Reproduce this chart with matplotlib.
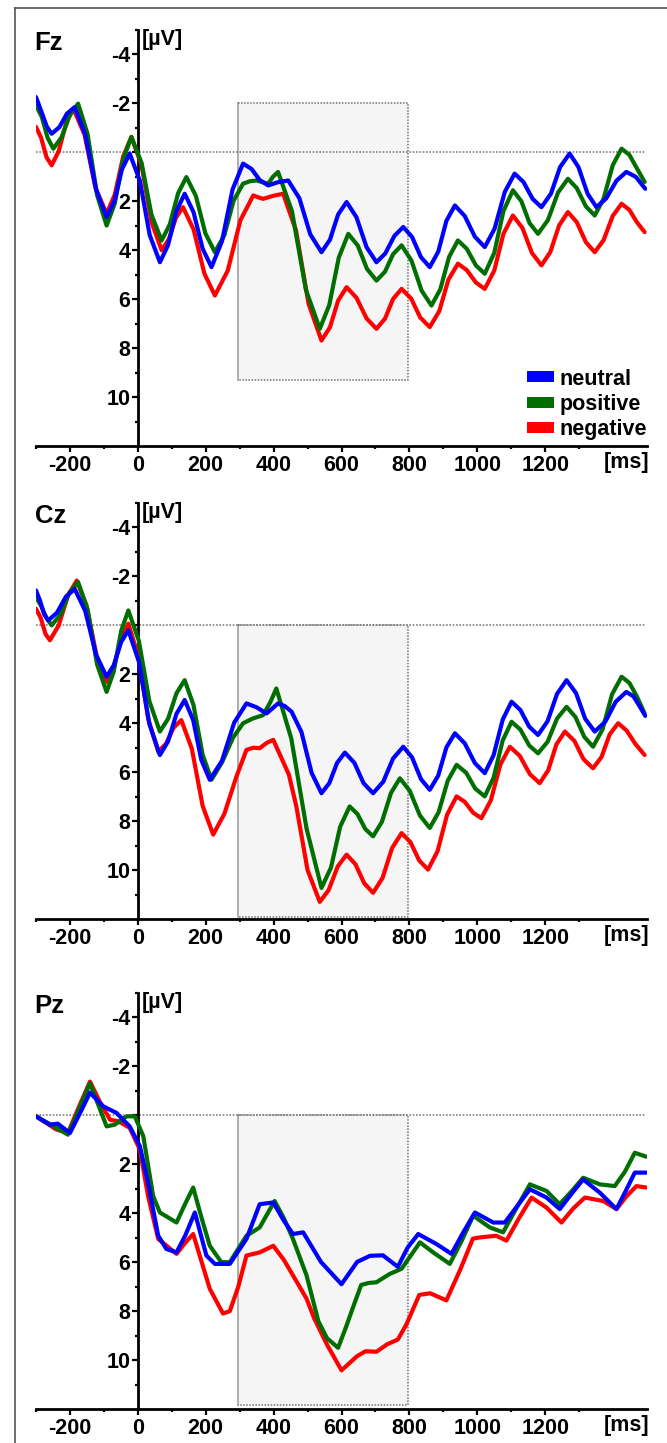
import matplotlib
matplotlib.use("Agg")
import matplotlib.pyplot as plt
from matplotlib.patches import Rectangle, Patch
from matplotlib.lines import Line2D

plt.rcParams['font.family'] = ['Liberation Sans', 'DejaVu Sans']
plt.rcParams['font.weight'] = 'bold'

# ---------------- data (time in ms, amplitude in microvolts) ----------------
conditions = ['neutral', 'positive', 'negative']
colors = ['#0000ff', '#006e00', '#ff0000']

x_ticks = [-200, 0, 200, 400, 600, 800, 1000, 1200]
x_ticklabels = ['-200', '0', '200', '400', '600', '800', '1000', '1200']
x_minor = [-300, -100, 100, 300, 500, 700, 900, 1100, 1300]
y_ticks = [-4, -2, 0, 2, 4, 6, 8, 10]
y_ticklabels = ['-4', '-2', '', '2', '4', '6', '8', '10']
y_minor = [-5, -3, -1, 1, 3, 5, 7, 9, 11]

fz_neutral_t = [-300,-285,-268,-254,-231,-209,-186,-155,-123,-92,-69,-47,-24,6,35,65,89,114,138,164,191,217,248,279,310,335,359,384,413,443,476,508,541,566,590,615,644,674,703,729,756,782,808,834,860,885,909,934,963,993,1022,1051,1081,1110,1136,1163,1189,1217,1244,1272,1298,1325,1351,1380,1410,1439,1467,1495]
fz_neutral_v = [-2.26,-1.7,-1.05,-0.76,-1.03,-1.58,-1.85,-0.73,1.52,2.64,1.99,0.70,0.05,1.16,3.38,4.49,3.79,2.39,1.69,2.44,3.94,4.69,3.63,1.52,0.46,0.68,1.13,1.35,1.22,1.15,1.88,3.35,4.08,3.57,2.54,2.03,2.65,3.88,4.49,4.13,3.41,3.05,3.46,4.28,4.69,4.06,2.80,2.17,2.60,3.45,3.87,3.12,1.62,0.87,1.21,1.90,2.24,1.69,0.60,0.05,0.60,1.69,2.24,1.88,1.16,0.80,1.0,1.49]

fz_positive_t = [-300,-283,-266,-249,-225,-200,-176,-148,-120,-92,-68,-43,-19,11,40,70,94,119,143,171,199,227,255,282,310,330,350,367,384,398,413,454,495,536,564,592,620,648,675,703,728,752,777,806,836,865,891,917,943,969,996,1022,1050,1077,1105,1130,1154,1179,1208,1238,1267,1293,1320,1346,1372,1399,1425,1448,1470,1493]
fz_positive_v = [-1.92,-1.45,-0.6,-0.15,-0.61,-1.53,-1.99,-0.75,1.75,2.99,2.09,0.28,-0.63,0.43,2.54,3.6,2.95,1.66,1.01,1.78,3.31,4.08,3.38,1.98,1.28,1.18,1.15,1.22,1.28,1.0,0.80,2.40,5.61,7.21,6.24,4.3,3.33,3.81,4.76,5.24,4.88,4.16,3.80,4.42,5.65,6.26,5.60,4.27,3.60,3.94,4.62,4.96,4.11,2.40,1.55,2.0,2.89,3.33,2.77,1.64,1.08,1.46,2.21,2.58,1.90,0.53,-0.15,0.1,0.65,1.21]

fz_negative_t = [-300,-285,-269,-254,-233,-211,-190,-157,-125,-92,-68,-43,-19,11,40,70,91,112,133,164,196,227,265,302,340,355,369,398,428,466,503,541,566,590,615,644,674,703,728,752,777,805,832,860,888,915,943,969,996,1022,1050,1077,1105,1133,1161,1189,1215,1241,1267,1293,1320,1346,1372,1399,1425,1448,1470,1493]
fz_negative_v = [-1.04,-0.6,0.2,0.53,-0.05,-1.21,-1.79,-0.72,1.44,2.51,1.73,0.16,-0.63,0.53,2.84,4.0,3.56,2.68,2.24,3.14,4.95,5.85,4.83,2.78,1.76,1.84,1.90,1.78,1.69,3.19,6.19,7.69,7.15,6.06,5.51,5.94,6.79,7.21,6.80,5.99,5.58,5.97,6.75,7.14,6.49,5.20,4.55,4.81,5.32,5.58,4.83,3.33,2.58,3.09,4.11,4.62,4.08,2.99,2.44,2.85,3.67,4.08,3.59,2.60,2.10,2.35,2.85,3.26]

cz_neutral_t = [-300,-288,-276,-264,-238,-212,-186,-155,-123,-92,-71,-49,-28,3,34,65,89,114,138,163,187,212,248,284,320,350,379,396,413,433,453,482,512,541,564,587,610,638,665,693,723,752,782,808,834,860,885,909,934,963,993,1022,1048,1075,1101,1127,1153,1179,1207,1235,1263,1291,1318,1346,1377,1408,1439,1460,1478,1495]
cz_neutral_v = [-1.43,-1.0,-0.45,-0.2,-0.52,-1.17,-1.49,-0.59,1.20,2.1,1.63,0.68,0.2,1.48,4.03,5.3,4.74,3.61,3.05,3.87,5.50,6.31,5.53,3.97,3.19,3.35,3.6,3.4,3.19,3.3,3.53,4.36,6.03,6.86,6.45,5.62,5.2,5.62,6.45,6.86,6.39,5.44,4.96,5.40,6.28,6.72,6.14,4.99,4.41,4.82,5.63,6.04,5.31,3.85,3.12,3.46,4.14,4.48,3.92,2.80,2.24,2.77,3.82,4.34,3.94,3.12,2.72,2.9,3.3,3.7]

cz_positive_t = [-300,-285,-269,-254,-228,-202,-176,-148,-120,-92,-71,-49,-28,3,34,65,89,114,138,164,191,217,248,280,310,340,369,390,408,452,497,541,569,596,624,647,670,693,719,746,772,801,831,860,886,913,939,967,994,1022,1048,1075,1101,1127,1153,1179,1207,1235,1263,1289,1315,1341,1369,1397,1425,1448,1470,1493]
cz_positive_v = [-1.15,-0.8,-0.3,0.0,-0.44,-1.33,-1.77,-0.65,1.6,2.72,1.89,0.22,-0.61,0.63,3.10,4.34,3.82,2.77,2.24,3.26,5.29,6.31,5.6,4.6,4.0,3.8,3.67,3.15,2.58,4.62,8.3,10.73,9.90,8.23,7.4,7.71,8.32,8.62,8.03,6.84,6.25,6.76,7.77,8.28,7.64,6.35,5.7,6.02,6.67,6.99,6.23,4.70,3.94,4.26,4.91,5.23,4.76,3.81,3.33,3.74,4.55,4.96,4.25,2.82,2.1,2.35,2.9,3.6]

cz_negative_t = [-300,-286,-272,-259,-233,-206,-180,-151,-121,-92,-71,-49,-28,1,31,60,83,105,128,159,191,222,255,290,320,340,359,380,399,445,467,500,536,562,589,615,641,667,693,721,749,777,803,829,855,883,911,939,963,988,1012,1040,1068,1096,1125,1155,1184,1209,1233,1258,1286,1313,1341,1366,1390,1415,1440,1466,1493]
cz_negative_v = [-0.68,-0.3,0.35,0.61,0.0,-1.22,-1.83,-0.80,1.28,2.31,1.72,0.53,-0.07,1.24,3.85,5.16,4.84,4.19,3.87,5.04,7.38,8.55,7.7,6.2,5.09,5.0,5.02,4.8,4.68,6.1,7.4,10.0,11.3,10.82,9.85,9.37,9.76,10.54,10.93,10.32,9.10,8.49,8.86,9.61,9.98,9.23,7.74,6.99,7.21,7.66,7.88,7.15,5.69,4.96,5.33,6.08,6.45,5.92,4.87,4.34,4.72,5.47,5.84,5.38,4.46,4.0,4.3,4.85,5.3]

pz_neutral_t = [-300,-259,-236,-200,-170,-141,-102,-63,-24,6,30,60,84,114,140,168,202,227,271,320,359,399,430,457,487,540,600,646,684,722,766,795,826,880,924,958,993,1047,1081,1118,1155,1204,1243,1278,1312,1361,1410,1437,1464,1498]
pz_neutral_v = [0.04,0.38,0.34,0.72,-0.1,-0.93,-0.37,-0.1,0.45,1.26,2.75,4.92,5.46,5.6,4.9,3.97,5.73,6.07,6.07,5.05,3.63,3.56,4.3,4.85,4.78,6.0,6.9,5.99,5.74,5.72,6.19,5.4,4.85,5.26,5.66,4.8,3.97,4.38,4.38,3.7,3.02,3.36,3.83,3.2,2.62,3.16,3.83,3.1,2.34,2.34]

pz_positive_t = [-300,-240,-206,-175,-141,-92,-68,-33,-9,16,45,65,114,140,163,190,212,246,271,320,359,403,430,457,497,532,557,590,612,633,658,680,703,742,777,831,870,919,955,988,1037,1076,1115,1155,1204,1243,1278,1312,1361,1405,1435,1464,1498]
pz_positive_v = [0.04,0.51,0.79,-0.2,-1.31,0.45,0.38,0.04,0.04,0.85,3.29,3.97,4.38,3.6,2.95,4.3,5.33,6.0,6.0,4.92,4.58,3.5,4.2,5.05,6.54,8.42,9.1,9.5,8.7,7.88,6.93,6.85,6.82,6.48,6.27,5.19,5.6,6.07,5.1,4.1,4.58,4.78,3.8,2.82,3.09,3.63,3.1,2.55,2.82,2.89,2.3,1.53,1.69]

pz_negative_t = [-300,-240,-206,-175,-141,-110,-82,-58,-24,6,30,60,114,140,163,212,251,271,296,320,359,399,430,468,497,519,557,600,646,671,703,734,766,791,829,861,909,950,987,1007,1056,1086,1123,1160,1204,1248,1283,1317,1371,1410,1440,1469,1498]
pz_negative_v = [0.04,0.58,0.72,-0.3,-1.38,-0.5,0.18,0.24,0.51,1.4,3.29,5.05,5.66,5.2,4.85,7.09,8.1,8.0,7.0,5.73,5.6,5.33,5.9,6.8,7.49,8.28,9.36,10.42,9.84,9.64,9.66,9.36,9.16,8.55,7.34,7.27,7.56,6.3,5.04,4.99,4.92,5.12,4.2,3.36,3.77,4.38,3.8,3.36,3.5,3.83,3.3,2.89,2.95]

# analysis window (ms) and its vertical extent per panel (microvolts)
window_start, window_end = 295, 797
fz_window = (-2.0, 9.3)
cz_window = (0.0, 11.9)
pz_window = (0.0, 11.85)

panels = [
    ('Fz', [(fz_neutral_t, fz_neutral_v), (fz_positive_t, fz_positive_v), (fz_negative_t, fz_negative_v)], fz_window, True),
    ('Cz', [(cz_neutral_t, cz_neutral_v), (cz_positive_t, cz_positive_v), (cz_negative_t, cz_negative_v)], cz_window, False),
    ('Pz', [(pz_neutral_t, pz_neutral_v), (pz_positive_t, pz_positive_v), (pz_negative_t, pz_negative_v)], pz_window, False),
]

# ---------------- layout ----------------
W, H = 667, 1443
fig = plt.figure(figsize=(W / 100, H / 100), dpi=100)
ax_left, ax_width = 36 / W, 611 / W
ax_height = 416 / H
ax_tops = [30, 503, 993]

# outer frame (left and top edges)
fig.add_artist(Line2D([15 / W, 15 / W], [0, 1 - 8 / H], color='#555555', lw=1.2))
fig.add_artist(Line2D([15 / W, 1], [1 - 8 / H, 1 - 8 / H], color='#555555', lw=1.2))

for (name, series, (wtop, wbot), show_legend), top in zip(panels, ax_tops):
    ax = fig.add_axes([ax_left, 1 - (top + 416) / H, ax_width, ax_height])
    ax.set_xlim(-300, 1500)
    ax.set_ylim(12, -5)
    ax.patch.set_visible(False)

    # analysis window
    ax.add_patch(Rectangle((window_start, wtop), window_end - window_start, wbot - wtop,
                           facecolor='#f5f5f5', edgecolor='none', zorder=0))
    ax.plot([window_start, window_start], [wtop, wbot], color='#a8a8a8', lw=1.3, zorder=1)
    ax.plot([window_start, window_end, window_end, window_start],
            [wtop, wtop, wbot, wbot], color='#707070', lw=1.1, ls=(0, (1, 1)), zorder=1)
    # zero line
    ax.plot([-300, 1495], [0, 0], color='#808080', lw=1.2, ls=(0, (1, 1)), zorder=1)

    # ERP curves (negative, positive, neutral from back to front)
    for idx in [2, 1, 0]:
        t, v = series[idx]
        ax.plot(t, v, color=colors[idx], lw=3.0, solid_joinstyle='round',
                solid_capstyle='round', zorder=3 + (2 - idx))

    # axes styling
    for s in ['top', 'right']:
        ax.spines[s].set_visible(False)
    ax.spines['left'].set_position(('data', 0))
    ax.spines['left'].set_linewidth(2)
    ax.spines['bottom'].set_linewidth(2)
    ax.set_xticks(x_ticks)
    ax.set_xticklabels(x_ticklabels)
    ax.set_xticks(x_minor, minor=True)
    ax.set_yticks(y_ticks)
    ax.set_yticklabels(y_ticklabels)
    ax.set_yticks(y_minor, minor=True)
    ax.tick_params(axis='both', which='major', direction='out', length=4, width=1.6,
                   labelsize=15.5)
    ax.tick_params(axis='both', which='minor', direction='out', length=2.5, width=1.6)
    ax.tick_params(axis='y', which='major', pad=1.5)
    ax.tick_params(axis='x', which='major', pad=2.5)
    for lab in ax.get_xticklabels() + ax.get_yticklabels():
        lab.set_fontweight('bold')

    ax.annotate(name, xy=(0, 1), xycoords='axes fraction', xytext=(-1, -1),
                textcoords='offset points', ha='left', va='top', fontsize=18.5,
                fontweight='bold', annotation_clip=False)
    ax.annotate('[µV]', xy=(0, 1), xycoords=('data', 'axes fraction'), xytext=(3, 1),
                textcoords='offset points', ha='left', va='top', fontsize=15.5,
                fontweight='bold', annotation_clip=False)
    ax.annotate('[ms]', xy=(1440, 0), xycoords=('data', 'axes fraction'), xytext=(0, -4),
                textcoords='offset points', ha='center', va='top', fontsize=15.5,
                fontweight='bold', annotation_clip=False)

    if show_legend:
        handles = [Patch(facecolor=c, edgecolor='none', label=l) for c, l in zip(colors, conditions)]
        leg = ax.legend(handles=handles, loc='upper left', bbox_to_anchor=(0.8036, 0.186),
                        frameon=False, fontsize=15.5, handlelength=1.25, handleheight=0.4,
                        handletextpad=0.25, labelspacing=0.2, borderpad=0, borderaxespad=0)
        for txt in leg.get_texts():
            txt.set_fontweight('bold')

fig.savefig('out.png', dpi=100)
